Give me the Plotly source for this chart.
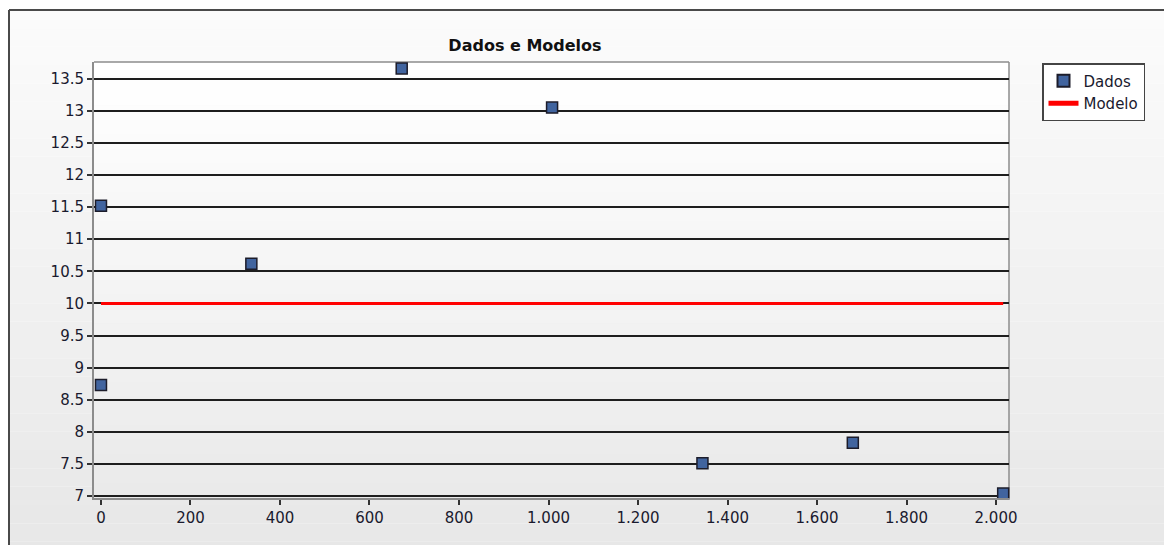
import plotly.graph_objects as go

# Data
data_x = [0, 0, 336, 672, 1008, 1344, 1680, 2016]
data_y = [11.52, 8.73, 10.62, 13.66, 13.05, 7.51, 7.83, 7.04]
model_x = [0, 2016]
model_y = [10, 10]
x_tickvals = [0, 200, 400, 600, 800, 1000, 1200, 1400, 1600, 1800, 2000]
x_ticktext = ["{:,}".format(v).replace(",", ".") for v in x_tickvals]
y_tickvals = [7, 7.5, 8, 8.5, 9, 9.5, 10, 10.5, 11, 11.5, 12, 12.5, 13, 13.5]
y_ticktext = ["{:g}".format(v) for v in y_tickvals]

OFF = 8  # page body margin
W, H = 1172 - OFF, 545 - OFF
L, R, T, B = 94 - OFF, 1009 - OFF, 62 - OFF, 498 - OFF
pw, ph = R - L, B - T

def px_x(p):
    return (p - OFF - L) / pw

def px_y(p):
    return (B - (p - OFF)) / ph

FONT = "DejaVu Sans"

fig = go.Figure()
fig.add_trace(go.Scatter(
    x=data_x, y=data_y, mode="markers", name="Dados",
    marker=dict(symbol="square", size=11, color="#41649f",
                line=dict(color="#1c1c2a", width=1.5)),
    cliponaxis=False,
))
fig.add_trace(go.Scatter(
    x=model_x, y=model_y, mode="lines", name="Modelo",
    line=dict(color="#ff0000", width=3),
))

shapes = []
# paper background gradient
n = 30
y0p, y1p = 10, 560
for i in range(n):
    a = y0p + (y1p - y0p) * i / n
    b = y0p + (y1p - y0p) * (i + 1) / n
    t = i / (n - 1)
    c = int(round(251 - t * (251 - 231)))
    shapes.append(dict(type="rect", xref="paper", yref="paper",
                       x0=px_x(9), x1=px_x(1190), y0=px_y(b), y1=px_y(a),
                       fillcolor=f"rgb({c},{c},{c})", line=dict(width=0),
                       layer="below"))
# plot area gradient
for i in range(n):
    a = T + ph * i / n
    b = T + ph * (i + 1) / n
    t = i / (n - 1)
    c = int(round(255 - t * (255 - 234)))
    shapes.append(dict(type="rect", xref="paper", yref="paper",
                       x0=0, x1=1, y0=(B - b) / ph, y1=(B - a) / ph,
                       fillcolor=f"rgb({c},{c},{c})", line=dict(width=0),
                       layer="below"))
# outer frame (top and left)
shapes.append(dict(type="line", xref="paper", yref="paper",
                   x0=px_x(9), x1=px_x(1190), y0=px_y(10), y1=px_y(10),
                   line=dict(color="#4a4a4a", width=2)))
shapes.append(dict(type="line", xref="paper", yref="paper",
                   x0=px_x(9), x1=px_x(9), y0=px_y(10), y1=px_y(560),
                   line=dict(color="#4a4a4a", width=2)))
# plot area border top and right
shapes.append(dict(type="line", xref="paper", yref="paper",
                   x0=0, x1=1, y0=1, y1=1,
                   line=dict(color="#8c8c8c", width=1.5), layer="below"))
shapes.append(dict(type="line", xref="paper", yref="paper",
                   x0=1, x1=1, y0=0, y1=1,
                   line=dict(color="#8c8c8c", width=1.5), layer="below"))

fig.update_layout(
    width=W, height=H,
    margin=dict(l=L, r=W - R, t=T, b=H - B),
    paper_bgcolor="white",
    plot_bgcolor="rgba(0,0,0,0)",
    font=dict(family=FONT, size=15, color="#1a1a2e"),
    title=dict(text="<b>Dados e Modelos</b>", x=(525 - OFF) / W, xanchor="center",
               y=1 - (45 - OFF) / H, yanchor="middle",
               font=dict(family=FONT, size=16, color="#111111")),
    showlegend=True,
    legend=dict(x=px_x(1042), y=px_y(63), xanchor="left", yanchor="top",
                bgcolor="white", bordercolor="#444444", borderwidth=1.5,
                font=dict(family=FONT, size=15, color="#1a1a2e"),
                itemsizing="constant", tracegroupgap=0, itemwidth=30),
    shapes=shapes,
)
fig.update_xaxes(
    range=[-15.6, 2029], tickvals=x_tickvals, ticktext=x_ticktext,
    showgrid=False, zeroline=False, showline=True, linecolor="#8c8c8c",
    linewidth=2, ticks="outside", ticklen=5, tickwidth=1.5, tickcolor="#333333",
)
fig.update_yaxes(
    range=[6.97, 13.76], tickvals=y_tickvals, ticktext=y_ticktext,
    showgrid=True, gridcolor="#1e1e1e", gridwidth=1.5, zeroline=False,
    showline=True, linecolor="#8c8c8c", linewidth=2,
    ticks="outside", ticklen=5, tickwidth=1.5, tickcolor="#333333",
)

fig.write_html("out.html")
